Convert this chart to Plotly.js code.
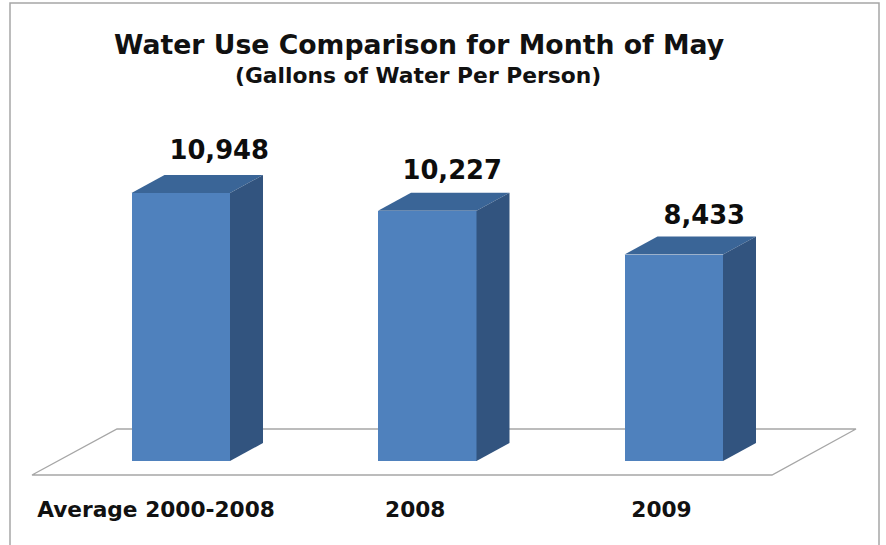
<!DOCTYPE html>
<html>
<head>
<meta charset="utf-8">
<script src="https://cdn.plot.ly/plotly-3.0.1.min.js"></script>
<style>html,body{margin:0;padding:0;background:#fff}#chart{width:886px;height:545px}</style>
</head>
<body>
<div id="chart"></div>
<script>
// Data
const categories = ['Average 2000-2008', '2008', '2009'];
const values = [10948, 10227, 8433];
const valueLabels = ['10,948', '10,227', '8,433'];

// Pixel geometry of the picture, converted to axis units below
const W = 886, H = 545, plotH = 490, baseY = 461, firstX = 180.75, stepX = 246.5, pxPerUnit = 0.02448;
const ux = px => px / stepX;
const uy = px => px / pxPerUnit;
const toX = px => (px - firstX) / stepX;
const toY = py => (baseY - py) / pxPerUnit;
const barW = ux(98.5), depthX = ux(33), depthY = uy(18);
const idx = categories.map((_, i) => i);
const tickShift = [-24.75, -12, -12.25];
const labelShiftX = [38.5, 25, 30.5];
const labelShiftY = [40.5, 38.5, 37];
const FONT = '"DejaVu Sans", Verdana, sans-serif';

const face = (xs, ys, color) => ({
  type: 'scatter', mode: 'lines', x: xs, y: ys, fill: 'toself', fillcolor: color,
  line: {width: 0, color: color}, hoverinfo: 'skip', showlegend: false
});

const front = {
  type: 'bar', x: idx, y: values, width: barW,
  marker: {color: '#4f81bd', line: {width: 0}}, showlegend: false
};

const tops = values.map((v, i) => {
  const l = i - barW / 2, r = i + barW / 2;
  return face([l, r, r + depthX, l + depthX, l], [v, v, v + depthY, v + depthY, v], '#3a6597');
});
const sides = values.map((v, i) => {
  const r = i + barW / 2;
  return face([r, r + depthX, r + depthX, r, r], [0, depthY, v + depthY, v, 0], '#32547f');
});

const labels = {
  type: 'scatter', mode: 'text',
  x: idx.map(i => i + ux(labelShiftX[i])),
  y: values.map((v, i) => v + uy(labelShiftY[i])),
  text: valueLabels, textposition: 'middle center',
  textfont: {family: FONT, size: 25.8, color: '#0d0d0d', weight: 700},
  hoverinfo: 'skip', showlegend: false
};

const layout = {
  width: W, height: H,
  margin: {l: 0, r: 0, t: 0, b: H - plotH, pad: 0},
  paper_bgcolor: '#ffffff', plot_bgcolor: 'rgba(0,0,0,0)',
  showlegend: false,
  title: {
    text: '<b>Water Use Comparison for Month of May</b>',
    font: {family: FONT, size: 26.7, color: '#111111'},
    x: 419 / W, xref: 'paper', xanchor: 'center',
    y: 1 - 45 / H, yref: 'container', yanchor: 'middle'
  },
  xaxis: {
    range: [toX(0), toX(W)], showgrid: false, zeroline: false, showline: false,
    tickmode: 'array',
    tickvals: idx.map(i => i + ux(tickShift[i])),
    ticktext: categories,
    ticks: 'outside', ticklen: 0.1, tickcolor: 'rgba(0,0,0,0)',
    tickangle: 0,
    tickfont: {family: FONT, size: 21.7, color: '#111111', weight: 700},
    fixedrange: true
  },
  yaxis: {
    range: [toY(plotH), toY(0)], visible: false, showgrid: false, zeroline: false, fixedrange: true
  },
  bargap: 0,
  annotations: [{
    text: '<b>(Gallons of Water Per Person)</b>',
    xref: 'paper', yref: 'paper', x: 418 / W, y: (plotH - 76) / plotH,
    xanchor: 'center', yanchor: 'middle', showarrow: false,
    font: {family: FONT, size: 21.8, color: '#111111'}
  }],
  shapes: [
    {type: 'path', layer: 'below', xref: 'x', yref: 'y',
     path: `M ${toX(32)} ${toY(475)} L ${toX(772)} ${toY(475)} L ${toX(856)} ${toY(429)} L ${toX(117)} ${toY(429)} Z`,
     line: {color: '#a6a6a6', width: 1.3}, fillcolor: 'rgba(0,0,0,0)'},
    {type: 'path', layer: 'below', xref: 'paper', yref: 'paper',
     path: `M ${10 / W} ${-(H - plotH + 5) / plotH} L ${10 / W} ${(plotH - 3) / plotH} L ${879 / W} ${(plotH - 3) / plotH} L ${879 / W} ${-(H - plotH + 5) / plotH}`,
     line: {color: '#a6a6a6', width: 1.5}, fillcolor: 'rgba(0,0,0,0)'}
  ]
};

Plotly.newPlot('chart', [front, ...tops, ...sides, labels], layout, {displayModeBar: false, staticPlot: true});
</script>
</body>
</html>
